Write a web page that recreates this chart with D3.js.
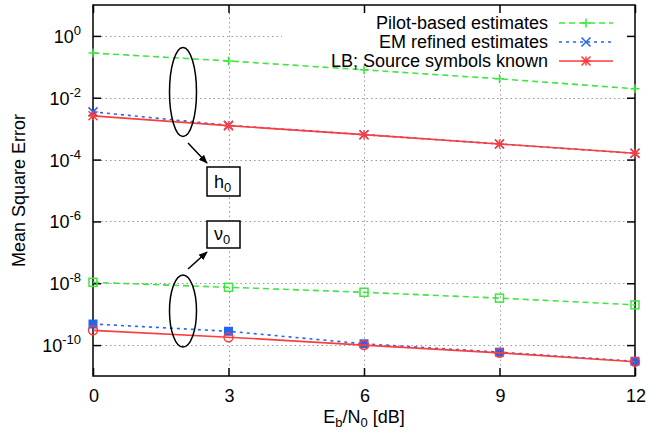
<!DOCTYPE html>
<html>
<head>
<meta charset="utf-8">
<script src="https://cdn.jsdelivr.net/npm/d3@7"></script>
<style>
  body { margin: 0; background: #fff; }
  text { font-family: "Liberation Sans", Arial, sans-serif; fill: #000; }
</style>
</head>
<body>
<div id="chart"></div>
<script>
// data
var snr = [0, 3, 6, 9, 12];
var xTicks = [0, 3, 6, 9, 12];
var yTickExp = [0, -2, -4, -6, -8, -10];

var pilotH = [0.28, 0.155, 0.08, 0.041, 0.0195];
var emH = [0.0035, 0.00128, 0.00064, 0.00032, 0.00016];
var lbH = [0.0026, 0.00125, 0.00064, 0.00032, 0.00016];

var pilotNu = [1.07e-8, 7.4e-9, 5.1e-9, 3.3e-9, 2.0e-9];
var emNu = [4.8e-10, 2.8e-10, 1.1e-10, 5.9e-11, 3.0e-11];
var lbNu = [3.0e-10, 1.8e-10, 1.0e-10, 5.6e-11, 2.9e-11];

var legendLabels = ["Pilot-based estimates", "EM refined estimates", "LB; Source symbols known"];

var width = 650, height = 437;
var margin = { top: 5, right: 15, bottom: 61, left: 93 };

var green = "#3ee63e", blue = "#2266ee", red = "#ff3b3b";

var svg = d3.select("#chart").append("svg")
    .attr("width", width).attr("height", height);

var xScale = d3.scaleLinear().domain([0, 12]).range([margin.left, width - margin.right]);
var yScale = d3.scaleLog().domain([1e-11, 10]).range([height - margin.bottom, margin.top]);

var x0 = xScale.range()[0], x1 = xScale.range()[1];
var y0 = yScale.range()[0], y1 = yScale.range()[1];

// grid
var grid = svg.append("g").attr("stroke", "#999").attr("stroke-width", 1).attr("stroke-dasharray", "1.5,3");
yTickExp.forEach(function (e) {
    var y = Math.round(yScale(Math.pow(10, e))) + 0.5;
    grid.append("line").attr("x1", x0 + 8).attr("x2", x1 - 8).attr("y1", y).attr("y2", y);
});
xTicks.slice(1, -1).forEach(function (t) {
    var x = Math.round(xScale(t)) + 0.5;
    grid.append("line").attr("x1", x).attr("x2", x).attr("y1", y1 + 8).attr("y2", y0 - 8);
});

// legend mask over grid (like gnuplot's opaque key)
svg.append("rect").attr("x", 282).attr("y", y1 + 1).attr("width", x1 - 283).attr("height", 66).attr("fill", "#fff");

// axes with inward ticks, mirrored
var yVals = yTickExp.map(function (e) { return Math.pow(10, e); });
svg.append("g").attr("transform", "translate(" + x0 + ",0)")
    .call(d3.axisRight(yScale).tickValues(yVals).tickSize(8).tickFormat(""));
svg.append("g").attr("transform", "translate(" + x1 + ",0)")
    .call(d3.axisLeft(yScale).tickValues(yVals).tickSize(8).tickFormat(""));
svg.append("g").attr("transform", "translate(0," + y0 + ")")
    .call(d3.axisTop(xScale).tickValues(xTicks).tickSize(8).tickFormat(""));
svg.append("g").attr("transform", "translate(0," + y1 + ")")
    .call(d3.axisBottom(xScale).tickValues(xTicks).tickSize(8).tickFormat(""));
svg.selectAll(".domain").remove();
svg.selectAll(".tick line").attr("stroke", "#000").attr("stroke-width", 1.5);

// frame
svg.append("rect").attr("x", x0).attr("y", y1).attr("width", x1 - x0).attr("height", y0 - y1)
    .attr("fill", "none").attr("stroke", "#000").attr("stroke-width", 1.5);

// tick labels
xTicks.forEach(function (t) {
    svg.append("text").attr("x", xScale(t) + 1).attr("y", 402)
        .attr("text-anchor", "middle").attr("font-size", 18).text(t);
});
yTickExp.forEach(function (e) {
    var t = svg.append("text").attr("x", 81).attr("y", yScale(Math.pow(10, e)) + 7)
        .attr("text-anchor", "end").attr("font-size", 18);
    t.append("tspan").text("10");
    t.append("tspan").attr("font-size", 13).attr("dy", -8).text(e);
});

// axis titles
var xt = svg.append("text").attr("x", 364).attr("y", 423).attr("text-anchor", "middle").attr("font-size", 18);
xt.append("tspan").text("E");
xt.append("tspan").attr("font-size", 13).attr("dy", 4).text("b");
xt.append("tspan").attr("dy", -4).text("/N");
xt.append("tspan").attr("font-size", 13).attr("dy", 4).text("0");
xt.append("tspan").attr("dy", -4).text(" [dB]");

svg.append("text").attr("transform", "translate(25," + ((y0 + y1) / 2) + ") rotate(-90)")
    .attr("text-anchor", "middle").attr("font-size", 18).text("Mean Square Error");

// markers
function drawMarker(g, type, x, y, color) {
    var s = 4.5;
    if (type === "plus") {
        g.append("path").attr("d", "M" + (x - s) + "," + y + "H" + (x + s) + "M" + x + "," + (y - s) + "V" + (y + s))
            .attr("stroke", color).attr("stroke-width", 1.5);
    } else if (type === "cross") {
        g.append("path").attr("d", "M" + (x - s) + "," + (y - s) + "L" + (x + s) + "," + (y + s) + "M" + (x - s) + "," + (y + s) + "L" + (x + s) + "," + (y - s))
            .attr("stroke", color).attr("stroke-width", 1.5);
    } else if (type === "star") {
        g.append("path").attr("d", "M" + (x - s) + "," + y + "H" + (x + s) + "M" + x + "," + (y - s) + "V" + (y + s) +
            "M" + (x - s) + "," + (y - s) + "L" + (x + s) + "," + (y + s) + "M" + (x - s) + "," + (y + s) + "L" + (x + s) + "," + (y - s))
            .attr("stroke", color).attr("stroke-width", 1.5);
    } else if (type === "square") {
        g.append("rect").attr("x", x - 4).attr("y", y - 4).attr("width", 8).attr("height", 8)
            .attr("fill", "none").attr("stroke", color).attr("stroke-width", 1.5);
    } else if (type === "fsquare") {
        g.append("rect").attr("x", x - 4.5).attr("y", y - 4.5).attr("width", 9).attr("height", 9)
            .attr("fill", color);
    } else if (type === "circle") {
        g.append("circle").attr("cx", x).attr("cy", y).attr("r", 4.5)
            .attr("fill", "none").attr("stroke", color).attr("stroke-width", 1.5);
    }
}

var line = d3.line().x(function (d) { return xScale(d[0]); }).y(function (d) { return yScale(d[1]); });

var series = [
    { vals: pilotH, color: green, dash: "6,4", marker: "plus" },
    { vals: pilotNu, color: green, dash: "6,4", marker: "square" },
    { vals: emH, color: blue, dash: "3,4", marker: "cross" },
    { vals: emNu, color: blue, dash: "3,4", marker: "fsquare" },
    { vals: lbH, color: red, dash: null, marker: "star" },
    { vals: lbNu, color: red, dash: null, marker: "circle" }
];

var plot = svg.append("g");
series.forEach(function (s) {
    var pts = snr.map(function (x, i) { return [x, s.vals[i]]; });
    plot.append("path").datum(pts).attr("d", line)
        .attr("fill", "none").attr("stroke", s.color).attr("stroke-width", 1.6)
        .attr("stroke-dasharray", s.dash);
    pts.forEach(function (p) {
        drawMarker(plot, s.marker, xScale(p[0]), yScale(p[1]), s.color);
    });
});

// legend
var legendItems = [
    { color: green, dash: "6,4", marker: "plus" },
    { color: blue, dash: "3,4", marker: "cross" },
    { color: red, dash: null, marker: "star" }
];
legendItems.forEach(function (d, i) {
    var y = 23 + i * 19;
    svg.append("text").attr("x", 548).attr("y", y + 6).attr("text-anchor", "end")
        .attr("font-size", 18).text(legendLabels[i]);
    svg.append("line").attr("x1", 559).attr("x2", 613).attr("y1", y).attr("y2", y)
        .attr("stroke", d.color).attr("stroke-width", 1.6).attr("stroke-dasharray", d.dash);
    drawMarker(svg, d.marker, 586, y, d.color);
});

// annotations: ellipses, arrows, labelled boxes
var defs = svg.append("defs");
defs.append("marker").attr("id", "arrow").attr("viewBox", "0 0 10 10")
    .attr("refX", 9).attr("refY", 5).attr("markerWidth", 9).attr("markerHeight", 9)
    .attr("orient", "auto").attr("markerUnits", "userSpaceOnUse")
    .append("path").attr("d", "M0,1 L10,5 L0,9 Z").attr("fill", "#000");

var ann = svg.append("g").attr("stroke", "#000").attr("stroke-width", 1.5).attr("fill", "none");
ann.append("ellipse").attr("cx", 183).attr("cy", 92).attr("rx", 13.5).attr("ry", 44.5);
ann.append("ellipse").attr("cx", 183).attr("cy", 311).attr("rx", 13.5).attr("ry", 36);
ann.append("line").attr("x1", 188).attr("y1", 143).attr("x2", 207).attr("y2", 163).attr("marker-end", "url(#arrow)");
ann.append("line").attr("x1", 188).attr("y1", 269).attr("x2", 207).attr("y2", 252).attr("marker-end", "url(#arrow)");
ann.append("rect").attr("x", 207).attr("y", 167).attr("width", 33).attr("height", 29).attr("fill", "#fff");
ann.append("rect").attr("x", 207).attr("y", 221).attr("width", 33).attr("height", 27).attr("fill", "#fff");

var h0 = svg.append("text").attr("x", 214).attr("y", 188).attr("font-size", 18);
h0.append("tspan").text("h");
h0.append("tspan").attr("font-size", 13).attr("dy", 4).text("0");
var nu0 = svg.append("text").attr("x", 214).attr("y", 240).attr("font-size", 18);
nu0.append("tspan").text("ν");
nu0.append("tspan").attr("font-size", 13).attr("dy", 4).text("0");
</script>
</body>
</html>
